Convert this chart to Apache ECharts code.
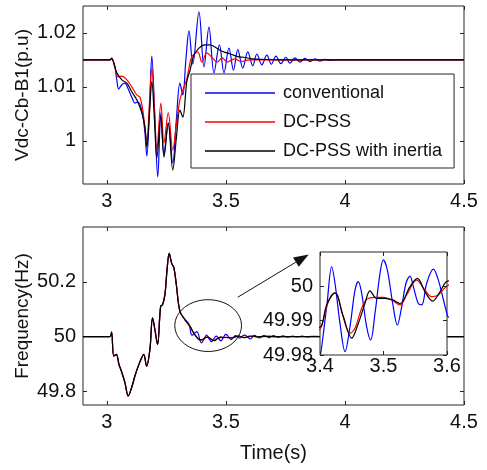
<!DOCTYPE html>
<html><head><meta charset="utf-8">
<script src="https://cdn.jsdelivr.net/npm/echarts@6/dist/echarts.min.js"></script>
<style>html,body{margin:0;padding:0;background:#fff}#c{width:487px;height:470px}</style>
</head><body><div id="c"></div>
<script>
// ---------- names, colours, ticks ----------
const seriesNames = ['conventional', 'DC-PSS', 'DC-PSS with inertia'];
const seriesColors = ['#0000ff', '#ff0000', '#000000'];
const timeTicks = [3, 3.5, 4, 4.5];
const vdcTicks = [1, 1.01, 1.02];
const freqTicks = [49.8, 50, 50.2];
const insetTimeTicks = [3.4, 3.5, 3.6];
const insetFreqTicks = [49.98, 49.99, 50];
const vdcTitle = 'Vdc-Cb-B1(p.u)';
const freqTitle = 'Frequency(Hz)';
const timeTitle = 'Time(s)';

// ---------- Vdc data [time, p.u.] ----------
const vdcCommon = [[2.9,1.015],[3.0126,1.015],[3.020,1.0153],[3.034,1.0137]];
const vdcConventional = [[3.042,1.0113],[3.050,1.0096],[3.063,1.0104],[3.076,1.0107],[3.088,1.0098],[3.105,1.0081],[3.118,1.0070],[3.130,1.0072],[3.147,1.0057],[3.160,1.0015],[3.168,0.9972],[3.179,1.0057],[3.189,1.0157],[3.202,1.0039],[3.214,0.9933],[3.227,1.0052],[3.240,0.9974],[3.258,1.0033],[3.277,0.9959],[3.292,1.0039],[3.307,1.0107],[3.319,1.0085],[3.332,1.0150],[3.345,1.0204],[3.361,1.0142],[3.387,1.0239],[3.408,1.0137],[3.429,1.0211],[3.450,1.0126],[3.473,1.0178],[3.492,1.0126],[3.513,1.0172],[3.532,1.0131],[3.550,1.0169],[3.571,1.0135],[3.592,1.0165],[3.613,1.0139],[3.630,1.0161],[3.651,1.0141],[3.672,1.0159],[3.691,1.0142],[3.710,1.0157],[3.731,1.0143],[3.752,1.0155],[3.769,1.0144],[3.790,1.0154],[3.811,1.0146],[3.832,1.0153],[3.853,1.0147],[3.874,1.0152],[3.895,1.0148],[3.916,1.0151],[3.937,1.0149],[3.958,1.0150],[4.5,1.015]];
const vdcDcPss = [[3.046,1.0119],[3.063,1.0120],[3.084,1.0113],[3.105,1.0100],[3.126,1.0085],[3.139,1.0081],[3.151,1.0057],[3.168,1.0002],[3.179,1.0070],[3.189,1.0135],[3.200,1.0060],[3.210,0.9983],[3.227,1.0070],[3.240,0.9996],[3.258,1.0052],[3.277,0.9983],[3.292,1.0030],[3.307,1.0076],[3.320,1.0095],[3.335,1.0113],[3.345,1.0135],[3.357,1.0156],[3.382,1.0165],[3.399,1.0146],[3.420,1.0163],[3.443,1.0154],[3.464,1.0146],[3.485,1.0154],[3.506,1.0146],[3.536,1.0152],[3.565,1.0147],[3.599,1.0150],[4.5,1.015]];
const vdcDcPssInertia = [[3.042,1.0126],[3.063,1.0113],[3.084,1.0107],[3.105,1.0091],[3.126,1.0076],[3.147,1.0052],[3.160,1.0026],[3.168,0.9989],[3.179,1.0050],[3.189,1.0110],[3.200,1.0040],[3.210,0.9968],[3.227,1.0045],[3.240,0.9970],[3.258,1.0033],[3.277,0.9946],[3.292,1.0005],[3.307,1.0057],[3.319,1.0044],[3.336,1.0110],[3.349,1.0130],[3.366,1.0159],[3.387,1.0172],[3.412,1.0178],[3.433,1.0178],[3.454,1.0174],[3.479,1.0167],[3.504,1.0163],[3.525,1.0160],[3.550,1.0156],[3.575,1.0155],[3.609,1.0152],[3.651,1.0151],[3.75,1.0150],[4.5,1.015]];

// ---------- Frequency data [time, Hz] ----------
const freqCommon = [[2.9,50],[3.0126,50],[3.020,50.016],[3.029,49.928],[3.040,49.935],[3.051,49.898],[3.061,49.874],[3.076,49.832],[3.090,49.783],[3.104,49.813],[3.118,49.856],[3.132,49.892],[3.146,49.922],[3.155,49.935],[3.167,49.892],[3.181,49.953],[3.192,50.068],[3.202,50.025],[3.213,49.971],[3.226,50.110],[3.234,50.116],[3.244,50.153],[3.253,50.244],[3.262,50.304],[3.272,50.268],[3.282,50.250],[3.292,50.189],[3.307,50.092],[3.328,50.062]];
const freqConventional = [[3.345,50.045],[3.358,50.005],[3.378,50.018],[3.397,49.977],[3.4105,49.994],[3.4184,50.0057],[3.4236,50.0009],[3.4315,49.9892],[3.4394,49.981],[3.4472,49.9882],[3.4551,49.9989],[3.4603,50.0014],[3.4656,49.998],[3.4735,49.9882],[3.4798,49.9844],[3.4866,49.9921],[3.4945,50.0038],[3.4997,50.0077],[3.506,50.0048],[3.5145,49.995],[3.5218,49.9887],[3.5287,49.9941],[3.5354,50.0009],[3.5417,50.003],[3.547,49.9999],[3.5548,49.995],[3.5602,49.9946],[3.568,50.0009],[3.5785,50.005],[3.5864,50.0018],[3.5984,49.9931],[3.602,49.991],[3.620,50.004],[3.640,49.995],[3.660,50.0035],[3.680,49.996],[3.700,50.003],[3.720,49.997],[3.740,50.0025],[3.760,49.998],[3.780,50.002],[3.800,49.9985],[3.820,50.0015],[3.840,49.999],[3.860,50.001],[3.900,50],[4.5,50]];
const freqDcPss = [[3.349,50.036],[3.370,50.005],[3.392,49.9868],[3.401,49.9878],[3.4105,49.9941],[3.4184,49.9975],[3.4252,49.998],[3.4342,49.9926],[3.4472,49.9863],[3.4551,49.9878],[3.4656,49.9936],[3.4735,49.9962],[3.4866,49.9968],[3.4997,49.9968],[3.5129,49.996],[3.526,49.9946],[3.5365,49.9975],[3.5522,50.0018],[3.5654,49.9989],[3.5759,49.997],[3.5864,49.9975],[3.5984,49.9999],[3.612,50.001],[3.64,49.999],[3.67,50.0005],[3.70,50],[4.5,50]];
const freqDcPssInertia = [[3.349,50.038],[3.370,50.007],[3.392,49.988],[3.401,49.9882],[3.4105,49.9946],[3.4236,49.9981],[3.4367,49.9912],[3.4499,49.9849],[3.4603,49.9892],[3.4709,49.9951],[3.4787,49.9987],[3.4892,49.9965],[3.5024,49.9965],[3.5155,49.996],[3.526,49.995],[3.5417,49.9999],[3.5533,50.0023],[3.5654,49.9984],[3.5774,49.9957],[3.589,49.9984],[3.5984,50.0013],[3.606,50.0016],[3.63,49.999],[3.66,50.0005],[3.70,50],[4.5,50]];

// annotation anchors in data units (bottom plot)
const zoomEllipse = {t: 3.4256, f: 50.04, dt: 0.14, df: 0.0945};
const zoomArrow = {t0: 3.55, f0: 50.1436, t1: 3.848, f1: 50.30};

const vdcSets = [vdcConventional, vdcDcPss, vdcDcPssInertia].map(a => vdcCommon.concat(a));
const freqSets = [freqConventional, freqDcPss, freqDcPssInertia].map(a => freqCommon.concat(a));

const FONT = "'Liberation Sans', Arial, sans-serif";
const AX = '#262626';

function axis(gridIndex, min, max, ticks, position, labels, extra) {
  return Object.assign({
    type: 'value', gridIndex, min, max, position,
    axisLine: {show: false},
    splitLine: {show: false},
    axisTick: {show: true, inside: true, length: 4, customValues: ticks, lineStyle: {color: AX, width: 1}},
    axisLabel: {show: labels, customValues: ticks, fontSize: 20, fontFamily: FONT, color: '#111', margin: 7,
      formatter: v => String(v)},
    nameMoveOverlap: false,
    nameTextStyle: {fontSize: 19, fontFamily: FONT, color: '#111'}
  }, extra || {});
}

const xAxes = [
  axis(0, 2.9, 4.5, timeTicks, 'bottom', true),
  axis(0, 2.9, 4.5, timeTicks, 'top', false),
  axis(1, 2.9, 4.5, timeTicks, 'bottom', true, {name: timeTitle, nameLocation: 'middle', nameGap: 38,
    nameTextStyle: {fontSize: 20, fontFamily: FONT, color: '#111'}}),
  axis(1, 2.9, 4.5, timeTicks, 'top', false),
  axis(2, 3.4, 3.6, insetTimeTicks, 'bottom', true, {z: 6}),
  axis(2, 3.4, 3.6, insetTimeTicks, 'top', false, {z: 6})
];
xAxes[4].axisLabel.margin = 1;
const yAxes = [
  axis(0, 0.992, 1.025, vdcTicks, 'left', true, {name: vdcTitle, nameLocation: 'middle', nameGap: 51}),
  axis(0, 0.992, 1.025, vdcTicks, 'right', false),
  axis(1, 49.75, 50.4, freqTicks, 'left', true, {name: freqTitle, nameLocation: 'middle', nameGap: 51}),
  axis(1, 49.75, 50.4, freqTicks, 'right', false),
  axis(2, 49.98, 50.01, insetFreqTicks, 'left', true, {z: 6}),
  axis(2, 49.98, 50.01, insetFreqTicks, 'right', false, {z: 6})
];

const series = [];
function addLines(sets, xi, yi, z) {
  sets.forEach((d, i) => series.push({
    type: 'line', name: seriesNames[i], data: d, xAxisIndex: xi, yAxisIndex: yi,
    symbol: 'none', smooth: 0.35, clip: true, z: z, animation: false,
    lineStyle: {color: seriesColors[i], width: 1.2}, itemStyle: {color: seriesColors[i]}
  }));
}
addLines(vdcSets, 0, 0, 2);
addLines(freqSets, 2, 2, 2);
addLines(freqSets, 4, 4, 5);

const chart = echarts.init(document.getElementById('c'), null, {renderer: 'canvas'});
chart.setOption({
  animation: false,
  backgroundColor: '#fff',
  grid: [
    {left: 83, top: 6, width: 381, height: 178, show: true, borderColor: AX, borderWidth: 1, backgroundColor: 'transparent'},
    {left: 83, top: 227, width: 381, height: 178, show: true, borderColor: AX, borderWidth: 1, backgroundColor: 'transparent'},
    {left: 320, top: 252, width: 127, height: 103, show: true, borderColor: AX, borderWidth: 1, backgroundColor: '#fff', z: 4}
  ],
  xAxis: xAxes,
  yAxis: yAxes,
  legend: {
    show: true, orient: 'vertical', left: 191, top: 74, selectedMode: false,
    data: seriesNames.map(n => ({name: n, icon: 'rect'})),
    itemWidth: 70, itemHeight: 1.5, itemGap: 11, padding: [10, 12, 8, 14],
    backgroundColor: '#fff', borderColor: AX, borderWidth: 1, z: 8,
    textStyle: {fontSize: 18, lineHeight: 18, fontFamily: FONT, color: '#111', padding: [0, 0, 0, 3]}
  },
  series: series
});

// annotation: ellipse + arrow, positioned through the bottom plot's axes
const fnd = {xAxisIndex: 2, yAxisIndex: 2};
const c = chart.convertToPixel(fnd, [zoomEllipse.t, zoomEllipse.f]);
const ex = chart.convertToPixel(fnd, [zoomEllipse.t + zoomEllipse.dt, zoomEllipse.f + zoomEllipse.df]);
const p0 = chart.convertToPixel(fnd, [zoomArrow.t0, zoomArrow.f0]);
const p1 = chart.convertToPixel(fnd, [zoomArrow.t1, zoomArrow.f1]);
const dx = p1[0] - p0[0], dy = p1[1] - p0[1], L = Math.hypot(dx, dy);
const ux = dx / L, uy = dy / L, hl = 15, hw = 5.5;
const base = [p1[0] - ux * hl, p1[1] - uy * hl];
chart.setOption({
  graphic: [
    {type: 'ellipse', z: 10, shape: {cx: c[0], cy: c[1], rx: Math.abs(ex[0] - c[0]), ry: Math.abs(c[1] - ex[1])},
      style: {fill: 'none', stroke: '#111', lineWidth: 1}},
    {type: 'line', z: 10, shape: {x1: p0[0], y1: p0[1], x2: base[0], y2: base[1]}, style: {stroke: '#111', lineWidth: 1}},
    {type: 'polygon', z: 10, shape: {points: [p1, [base[0] - uy * hw, base[1] + ux * hw], [base[0] + uy * hw, base[1] - ux * hw]]},
      style: {fill: '#111'}}
  ]
});
</script></body></html>
